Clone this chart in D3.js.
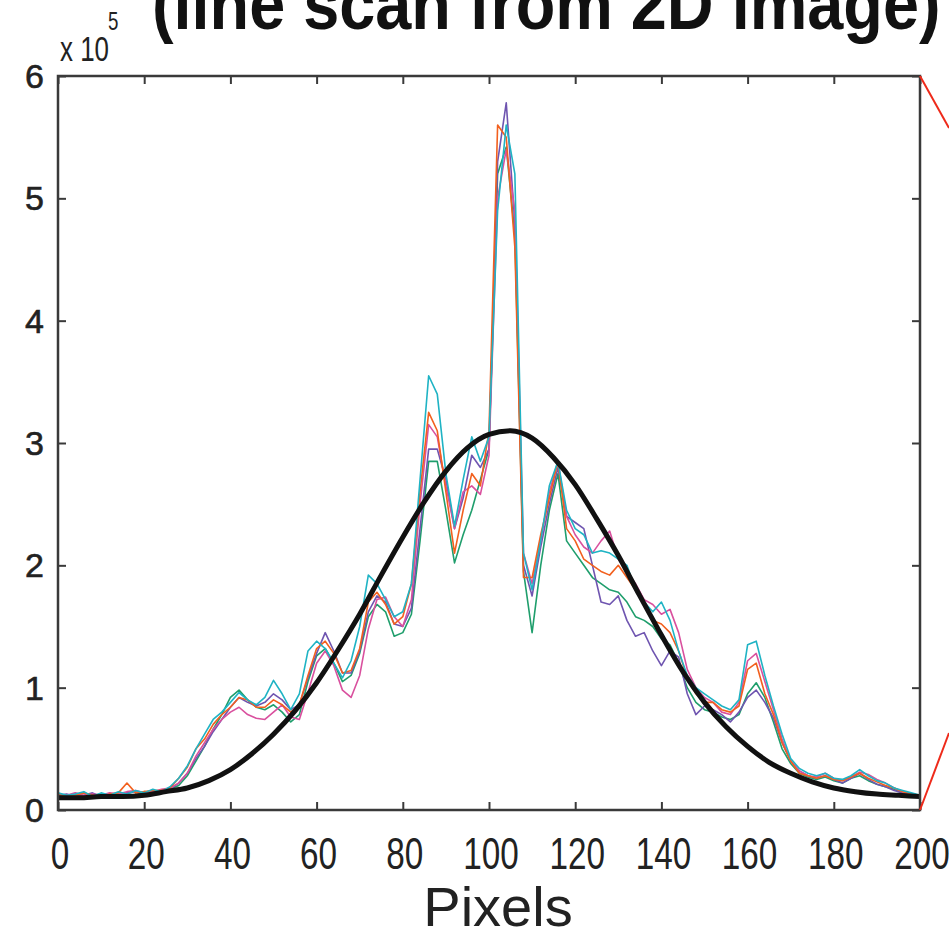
<!DOCTYPE html>
<html>
<head>
<meta charset="utf-8">
<script src="https://cdn.jsdelivr.net/npm/d3@7"></script>
<style>
  body { margin: 0; background: #fff; }
  svg { display: block; font-family: "Liberation Sans", Arial, sans-serif; }
</style>
</head>
<body>
<svg width="949" height="936"></svg>
<script>
// line scan profiles, values in units of 1e5, sampled every 2 pixels (0..200)
const scanX = d3.range(0, 201, 2);

const scanCyan = [
  0.14,0.12,0.13,0.15,0.11,0.14,0.12,0.15,0.13,0.16,
  0.14,0.17,0.15,0.19,0.26,0.36,0.50,0.62,0.74,0.80,
  0.88,0.96,0.90,0.86,0.92,1.06,0.95,0.82,0.95,1.30,
  1.38,1.32,1.20,1.08,1.22,1.50,1.92,1.85,1.72,1.58,
  1.62,1.85,2.70,3.55,3.40,2.75,2.32,2.70,3.05,2.85,
  3.05,4.90,5.60,5.20,2.10,1.80,2.20,2.65,2.85,2.45,
  2.30,2.25,2.10,2.12,2.10,2.05,2.00,1.80,1.70,1.62,
  1.70,1.55,1.30,1.10,1.00,0.95,0.90,0.85,0.82,0.90,
  1.35,1.38,1.10,0.85,0.62,0.42,0.34,0.30,0.28,0.30,
  0.26,0.25,0.28,0.33,0.28,0.24,0.22,0.18,0.16,0.14,
  0.12
];
const scanOrange = [
  0.13,0.11,0.12,0.14,0.12,0.10,0.13,0.14,0.22,0.14,
  0.15,0.16,0.16,0.18,0.26,0.35,0.50,0.58,0.70,0.78,
  0.84,0.92,0.90,0.84,0.84,0.90,0.86,0.80,0.86,1.10,
  1.32,1.38,1.28,1.12,1.14,1.32,1.70,1.78,1.68,1.52,
  1.58,1.85,2.60,3.25,3.10,2.60,2.10,2.45,2.75,2.65,
  3.10,5.60,5.50,4.60,1.90,1.90,2.25,2.55,2.85,2.30,
  2.20,2.05,2.00,1.95,1.92,2.00,1.90,1.80,1.68,1.55,
  1.52,1.45,1.30,1.08,0.95,0.88,0.88,0.82,0.80,0.85,
  1.15,1.20,0.95,0.78,0.55,0.40,0.30,0.28,0.26,0.28,
  0.25,0.24,0.27,0.30,0.26,0.23,0.20,0.18,0.15,0.13,
  0.12
];
const scanPurple = [
  0.12,0.13,0.11,0.12,0.14,0.11,0.13,0.12,0.14,0.15,
  0.13,0.15,0.16,0.17,0.22,0.30,0.42,0.52,0.64,0.74,
  0.84,0.92,0.88,0.85,0.88,0.95,0.90,0.82,0.86,1.08,
  1.28,1.45,1.30,1.12,1.12,1.30,1.62,1.75,1.70,1.52,
  1.50,1.65,2.30,2.95,2.95,2.70,2.30,2.55,2.90,2.80,
  2.95,5.30,5.78,4.80,2.00,1.75,2.15,2.50,2.80,2.40,
  2.35,2.30,2.00,1.70,1.68,1.75,1.55,1.42,1.45,1.30,
  1.18,1.30,1.25,0.95,0.78,0.85,0.82,0.78,0.72,0.80,
  0.92,0.98,0.88,0.75,0.55,0.40,0.32,0.28,0.26,0.28,
  0.25,0.22,0.26,0.30,0.25,0.21,0.19,0.16,0.14,0.13,
  0.12
];
const scanMagenta = [
  0.13,0.12,0.14,0.12,0.13,0.12,0.14,0.13,0.15,0.16,
  0.14,0.15,0.17,0.18,0.22,0.30,0.44,0.55,0.66,0.74,
  0.80,0.84,0.78,0.75,0.74,0.80,0.86,0.76,0.74,0.96,
  1.20,1.30,1.18,0.98,0.92,1.10,1.48,1.72,1.74,1.58,
  1.50,1.72,2.50,3.15,3.05,2.65,2.30,2.60,2.65,2.58,
  2.90,5.00,5.40,4.90,2.10,1.85,2.20,2.60,2.85,2.40,
  2.25,2.15,2.10,2.20,2.28,2.05,1.95,1.85,1.72,1.68,
  1.60,1.64,1.45,1.15,1.00,0.92,0.88,0.80,0.78,0.88,
  1.22,1.28,1.05,0.82,0.58,0.40,0.32,0.28,0.27,0.30,
  0.26,0.24,0.27,0.31,0.29,0.25,0.22,0.18,0.15,0.13,
  0.12
];
const scanGreen = [
  0.12,0.11,0.13,0.09,0.12,0.13,0.11,0.12,0.13,0.12,
  0.15,0.14,0.16,0.17,0.20,0.28,0.40,0.52,0.66,0.78,
  0.92,0.98,0.90,0.84,0.82,0.86,0.80,0.72,0.78,1.05,
  1.26,1.32,1.20,1.05,1.10,1.28,1.58,1.68,1.62,1.42,
  1.45,1.60,2.20,2.85,2.85,2.45,2.02,2.25,2.45,2.70,
  2.95,5.20,5.42,4.70,1.95,1.45,2.00,2.45,2.75,2.20,
  2.10,2.00,1.90,1.85,1.80,1.78,1.70,1.58,1.55,1.50,
  1.40,1.35,1.20,1.00,0.88,0.82,0.80,0.76,0.74,0.78,
  0.95,1.04,0.92,0.72,0.50,0.38,0.30,0.27,0.25,0.27,
  0.24,0.22,0.26,0.28,0.24,0.21,0.19,0.17,0.14,0.12,
  0.12
];

// fitted curve (black), read every 5 pixels
const fitX = d3.range(0, 201, 5);
const fitY = [
  0.10,0.10,0.11,0.11,0.12,0.15,0.18,0.24,0.33,0.46,
  0.62,0.81,1.04,1.31,1.60,1.92,2.23,2.52,2.77,2.96,
  3.07,3.10,3.04,2.88,2.66,2.38,2.08,1.75,1.43,1.13,
  0.88,0.68,0.52,0.39,0.30,0.23,0.18,0.15,0.13,0.12,
  0.11
];

const xTicks = d3.range(0, 201, 20);
const yTicks = [0, 1, 2, 3, 4, 5, 6];

const seriesColors = ["#1f9e6c", "#6f55b0", "#d9509e", "#f2601e", "#1fb3c4"];
const seriesData = [scanGreen, scanPurple, scanMagenta, scanOrange, scanCyan];

const svg = d3.select("svg");
const width = +svg.attr("width");
const height = +svg.attr("height");

svg.append("rect").attr("width", width).attr("height", height).attr("fill", "#fff");

const x = d3.scaleLinear().domain([0, 200]).range([58, 920]);
const y = d3.scaleLinear().domain([0, 6]).range([810, 76]);

const line = d3.line()
    .x(d => x(d[0]))
    .y(d => y(d[1]));

// colored scans
svg.append("g").selectAll("path")
    .data(seriesData)
    .join("path")
    .attr("d", d => line(d.map((v, i) => [scanX[i], v])))
    .attr("fill", "none")
    .attr("stroke", (d, i) => seriesColors[i])
    .attr("stroke-width", 1.6)
    .attr("stroke-linejoin", "round");

// black fit
svg.append("path")
    .attr("d", d3.line().curve(d3.curveMonotoneX)
        .x(d => x(d[0])).y(d => y(d[1]))(fitY.map((v, i) => [fitX[i], v])))
    .attr("fill", "none")
    .attr("stroke", "#111")
    .attr("stroke-width", 5);

// box + ticks (inward, all four sides)
const axisColor = "#3a3a3a";
const tickLen = 8;
svg.append("rect")
    .attr("x", x(0)).attr("y", y(6))
    .attr("width", x(200) - x(0)).attr("height", y(0) - y(6))
    .attr("fill", "none").attr("stroke", axisColor).attr("stroke-width", 2.5);

const axBottom = svg.append("g").attr("transform", `translate(0,${y(0)})`)
    .call(d3.axisBottom(x).tickValues(xTicks).tickSizeInner(-tickLen).tickSizeOuter(0).tickFormat(""));
const axTop = svg.append("g").attr("transform", `translate(0,${y(6)})`)
    .call(d3.axisTop(x).tickValues(xTicks).tickSizeInner(-tickLen).tickSizeOuter(0).tickFormat(""));
const axLeft = svg.append("g").attr("transform", `translate(${x(0)},0)`)
    .call(d3.axisLeft(y).tickValues(yTicks).tickSizeInner(-tickLen).tickSizeOuter(0).tickFormat(""));
const axRight = svg.append("g").attr("transform", `translate(${x(200)},0)`)
    .call(d3.axisRight(y).tickValues(yTicks).tickSizeInner(-tickLen).tickSizeOuter(0).tickFormat(""));
[axBottom, axTop, axLeft, axRight].forEach(g => {
    g.select(".domain").remove();
    g.selectAll("line").attr("stroke", axisColor).attr("stroke-width", 2);
});

// x tick labels (condensed look)
svg.append("g").selectAll("text")
    .data(xTicks)
    .join("text")
    .attr("transform", d => `translate(${x(d) + 2},869) scale(0.74,1)`)
    .attr("text-anchor", "middle")
    .attr("font-size", 45)
    .attr("fill", "#222")
    .text(d => d);

// y tick labels
svg.append("g").selectAll("text")
    .data(yTicks)
    .join("text")
    .attr("x", 44)
    .attr("y", d => y(d) + 12)
    .attr("text-anchor", "end")
    .attr("font-size", 34)
    .attr("fill", "#222")
    .attr("stroke", "#222")
    .attr("stroke-width", 0.6)
    .text(d => d);

// exponent
svg.append("text")
    .attr("transform", "translate(60,61) scale(0.72,1)")
    .attr("font-size", 36).attr("fill", "#222")
    .text("x 10");
svg.append("text")
    .attr("transform", "translate(108,30) scale(0.72,1)")
    .attr("font-size", 26).attr("fill", "#222")
    .text("5");

// axis title
svg.append("text")
    .attr("x", 498).attr("y", 926)
    .attr("text-anchor", "middle")
    .attr("font-size", 56).attr("fill", "#222")
    .text("Pixels");

// chart title (cut off at the top of the frame)
svg.append("text")
    .attr("transform", "translate(152,29) scale(0.9,1)")
    .attr("font-size", 72).attr("font-weight", "bold").attr("fill", "#111")
    .text("(line scan from 2D image)");

// red zoom lines leading off to the right
svg.append("g").selectAll("line")
    .data([[y(6), 128], [y(0), 733]])
    .join("line")
    .attr("x1", x(200)).attr("y1", d => d[0])
    .attr("x2", width).attr("y2", d => d[1])
    .attr("stroke", "#ee2a1a").attr("stroke-width", 2);
</script>
</body>
</html>
